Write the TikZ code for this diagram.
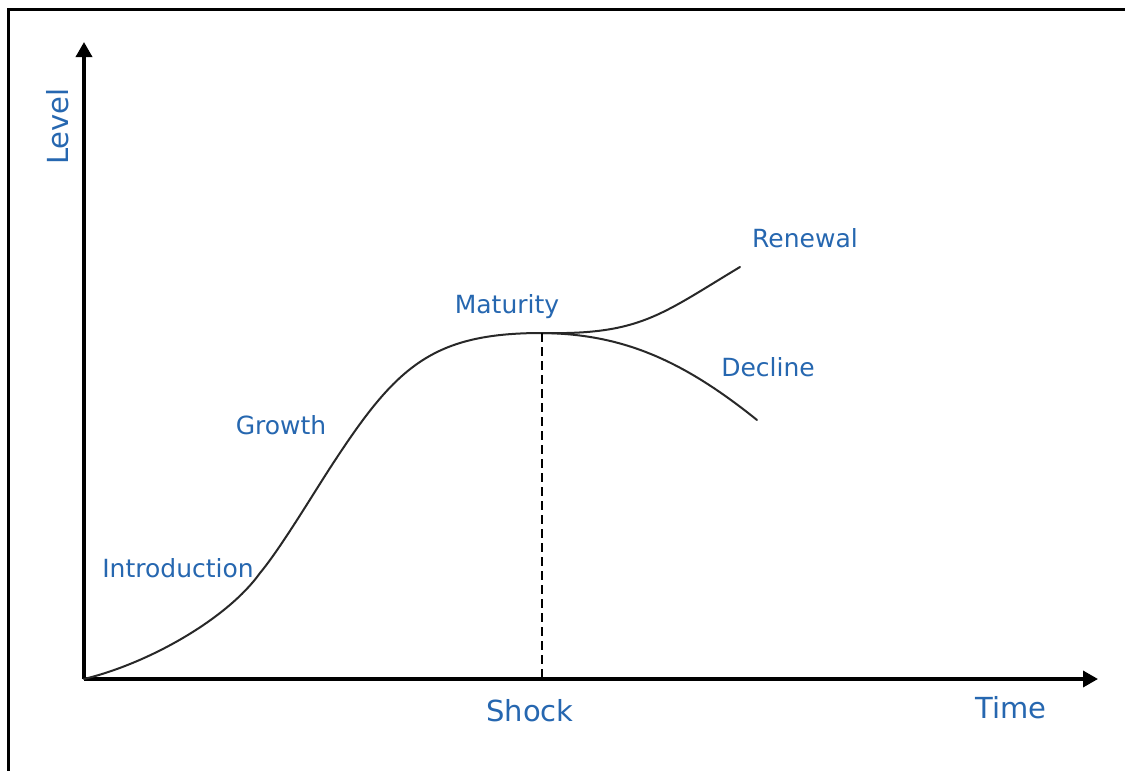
\documentclass[tikz,border=0pt]{standalone}
\usepackage{fontspec}
\setmainfont{DejaVu Sans}
\usetikzlibrary{arrows.meta}
\definecolor{labelblue}{RGB}{38,103,176}
\definecolor{curvegray}{RGB}{40,40,40}
\begin{document}
\begin{tikzpicture}[x=1pt,y=-1pt,
  axis/.style={line width=3.4pt,-{Triangle[length=15pt,width=16pt]}},
  lifecurve/.style={line width=2pt,curvegray,line join=round,line cap=round},
  stage/.style={text=labelblue,inner sep=0pt,anchor=base,font=\fontsize{25}{30}\selectfont},
  axislabel/.style={text=labelblue,inner sep=0pt,anchor=base,font=\fontsize{29}{34}\selectfont},
  shockline/.style={line width=1.8pt,dash pattern=on 9pt off 5pt}]
\useasboundingbox (0,0) rectangle (1125,771);
\fill[white] (0,0) rectangle (1125,771);
% outer frame (runs past the right and bottom edges)
\draw[line width=3pt] (8,1200) -- (8,9) -- (1300,9);

% axes
\coordinate (O) at (84,679);
\coordinate (ytop) at (84,42);
\coordinate (xend) at (1098,679);
\draw[axis] (O) -- (ytop);
\draw[axis] (O) -- (xend);

% life-cycle curve: slow start, steep growth, flat maturity
\coordinate (lift) at (260,573);
\coordinate (steep) at (330,468);
\coordinate (peak) at (542,333);
\coordinate (renewEnd) at (740,267);
\coordinate (declineEnd) at (757,420);
\draw[lifecurve] (O) .. controls (150,663) and (228,618) .. (lift)
                     .. controls (280,549) and (310,499) .. (steep)
                     .. controls (395,368) and (430,333) .. (peak);
% renewal branch
\draw[lifecurve] (peak) .. controls (640,335) and (660,315) .. (renewEnd);
% decline branch
\draw[lifecurve] (peak) .. controls (620,334) and (680,358) .. (declineEnd);

% shock marker
\coordinate (shockfoot) at (542,679);
\draw[shockline] (peak) -- (shockfoot);

% labels
\node[axislabel,anchor=base west,rotate=90] (level) at (68,165) {Level};
\node[stage] (intro) at (178,577) {Introduction};
\node[stage] (growth) at (281,434) {Growth};
\node[stage] (maturity) at (507,313) {Maturity};
\node[stage] (renewal) at (805,247) {Renewal};
\node[stage] (decline) at (768,376) {Decline};
\node[axislabel] (shock) at (530,721) {Shock};
\node[axislabel] (time) at (1011,718) {Time};
\end{tikzpicture}
\end{document}
